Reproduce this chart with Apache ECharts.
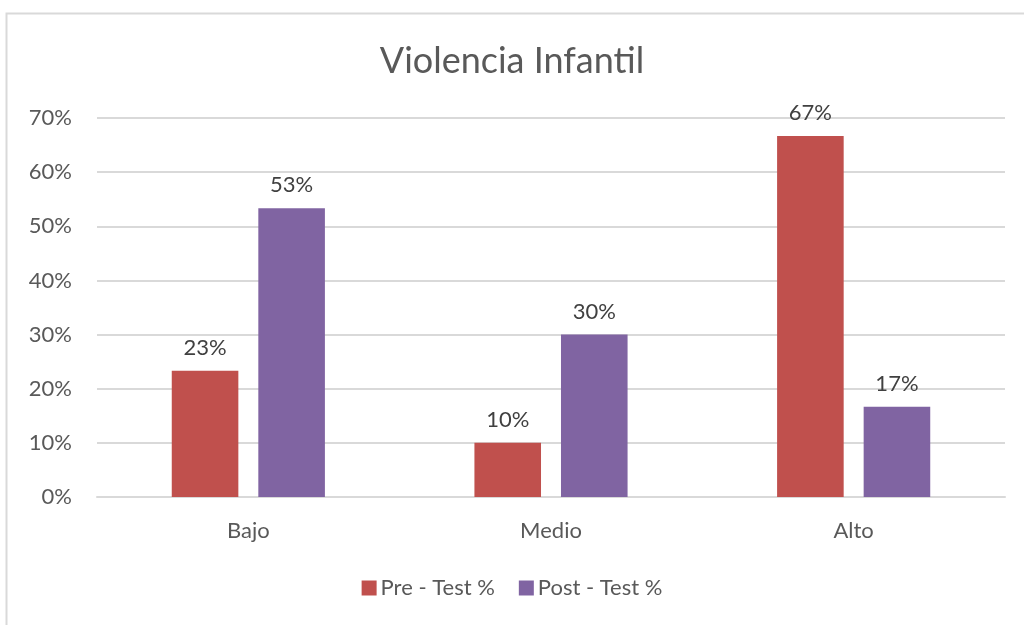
<!DOCTYPE html>
<html><head><meta charset="utf-8">
<script src="https://cdn.jsdelivr.net/npm/echarts@6/dist/echarts.min.js"></script>
<style>html,body{margin:0;padding:0;background:#fff}#c{width:1024px;height:625px}</style>
</head><body><div id="c"></div>
<script>
const categories = ['Bajo', 'Medio', 'Alto'];
const preTest = [23.33, 10, 66.67];
const postTest = [53.33, 30, 16.67];
const seriesNames = ['Pre - Test %', 'Post - Test %'];
const titleText = 'Violencia Infantil';

const FONT = 'Lato';
const chart = echarts.init(document.getElementById('c'));
const lbl = {show: true, position: 'top', distance: 12, color: '#404040', fontFamily: FONT, fontSize: 22,
  formatter: p => Math.round(p.value) + '%'};
chart.setOption({
  animation: false,
  graphic: [{type: 'rect', left: 4, top: 11, shape: {width: 1100, height: 700},
    style: {fill: 'none', stroke: '#d9d9d9', lineWidth: 2}, silent: true}],
  title: {text: titleText, left: 'center', top: 38,
    textStyle: {fontFamily: FONT, fontSize: 36, fontWeight: 'normal', color: '#595959'}},
  legend: {data: seriesNames, bottom: 21, left: 'center', itemWidth: 15, itemHeight: 15, itemGap: 24,
    textStyle: {fontFamily: FONT, fontSize: 22, color: '#595959', padding: [0, 0, 0, -1]}, icon: 'rect'},
  grid: {left: 97, right: 19, top: 118, bottom: 128, containLabel: false},
  xAxis: {type: 'category', data: categories,
    axisLine: {lineStyle: {color: '#d9d9d9', width: 2}}, axisTick: {show: false},
    axisLabel: {color: '#595959', fontFamily: FONT, fontSize: 22, margin: 23}},
  yAxis: {type: 'value', min: 0, max: 70, interval: 10,
    axisLabel: {formatter: '{value}%', color: '#595959', fontFamily: FONT, fontSize: 22, margin: 25},
    splitLine: {lineStyle: {color: '#d9d9d9', width: 2}},
    axisLine: {show: false}, axisTick: {show: false}},
  series: [
    {name: seriesNames[0], type: 'bar', data: preTest, barWidth: '22%', barGap: '30%',
      itemStyle: {color: '#C0504D'}, label: lbl},
    {name: seriesNames[1], type: 'bar', data: postTest, barWidth: '22%',
      itemStyle: {color: '#8064A2'}, label: lbl}
  ]
});
</script></body></html>
